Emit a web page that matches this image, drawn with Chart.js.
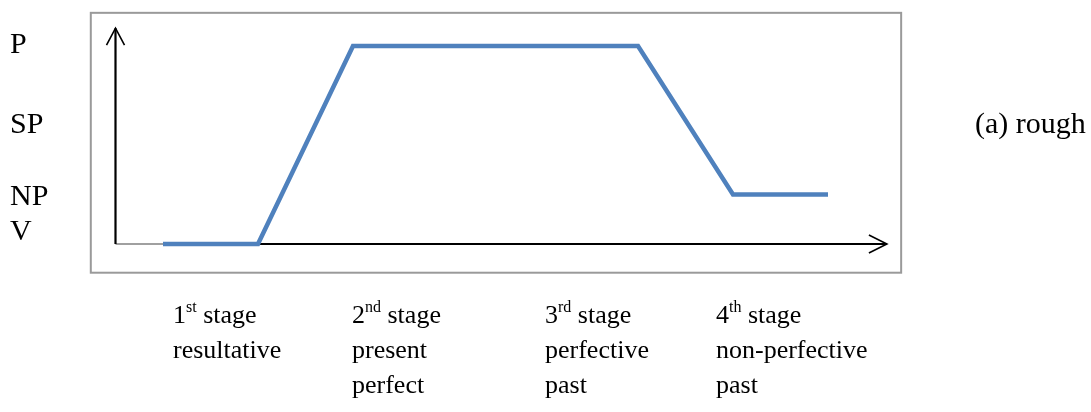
<!DOCTYPE html>
<html>
<head>
<meta charset="utf-8">
<script src="https://cdn.jsdelivr.net/npm/chart.js@4/dist/chart.umd.min.js"></script>
<style>
  body { margin: 0; background: #fff; }
  canvas { display: block; }
</style>
</head>
<body>
<canvas id="chart" width="1091" height="412"></canvas>
<script>
// stage curve (x = step along the time axis, y = level)
const stepX = [0, 1, 2, 5, 6, 7];
const levelY = [0, 0, 4, 4, 1, 1];

// level labels on the left and the value each sits at
const levelLabels = ['P', 'SP', 'NP', 'V'];
const levelLabelAt = [3.85, 2.25, 0.78, 0.08];

// stage captions under the box
const stageNum = ['1', '2', '3', '4'];
const stageSup = ['st', 'nd', 'rd', 'th'];
const stageLine2 = ['resultative', 'present', 'perfective', 'non-perfective'];
const stageLine3 = ['', 'perfect', 'past', 'past'];
const sideNote = '(a) rough';

// layout only
const stageColX = [173, 352, 545, 716];
const serif = '"Liberation Serif", "DejaVu Serif", serif';

const points = stepX.map((x, i) => ({ x: x, y: levelY[i] }));

const frame = {
    id: 'frame',
    beforeDatasetsDraw(chart) {
        const { ctx } = chart;
        const xs = chart.scales.x;
        const ys = chart.scales.y;
        const px = v => xs.getPixelForValue(v);
        const py = v => ys.getPixelForValue(v);

        ctx.save();
        // outer grey box
        ctx.strokeStyle = '#9a9a9a';
        ctx.lineWidth = 2;
        const bl = px(-0.76), br = px(7.77), bt = py(4.67), bb = py(-0.58);
        ctx.strokeRect(bl, bt, br - bl, bb - bt);

        const ox = px(-0.5), oy = py(0);
        // grey start of x axis
        ctx.strokeStyle = '#a0a0a0';
        ctx.lineWidth = 2;
        ctx.beginPath();
        ctx.moveTo(ox, oy);
        ctx.lineTo(px(0), oy);
        ctx.stroke();

        // black axes
        ctx.strokeStyle = '#000';
        ctx.lineWidth = 2.2;
        const xEnd = px(7.62), yEnd = py(4.36);
        ctx.beginPath();
        ctx.moveTo(px(0), oy);
        ctx.lineTo(xEnd, oy);
        ctx.moveTo(ox, oy);
        ctx.lineTo(ox, yEnd);
        ctx.stroke();

        // open arrow heads
        ctx.lineWidth = 1.6;
        ctx.beginPath();
        ctx.moveTo(xEnd - 18, oy - 9);
        ctx.lineTo(xEnd, oy);
        ctx.lineTo(xEnd - 18, oy + 9);
        ctx.moveTo(ox - 9, yEnd + 17);
        ctx.lineTo(ox, yEnd);
        ctx.lineTo(ox + 9, yEnd + 17);
        ctx.stroke();
        ctx.restore();
    },
    afterDraw(chart) {
        const { ctx } = chart;
        const ys = chart.scales.y;
        ctx.save();
        ctx.fillStyle = '#000';
        ctx.textBaseline = 'alphabetic';
        ctx.textAlign = 'left';

        ctx.font = '30px ' + serif;
        levelLabels.forEach((t, i) => {
            ctx.fillText(t, 10, ys.getPixelForValue(levelLabelAt[i]));
        });
        ctx.fillText(sideNote, 975, ys.getPixelForValue(levelLabelAt[1]));

        stageNum.forEach((n, i) => {
            let x = stageColX[i];
            ctx.font = '26px ' + serif;
            ctx.fillText(n, x, 323);
            x += ctx.measureText(n).width;
            ctx.font = '16px ' + serif;
            ctx.fillText(stageSup[i], x, 312);
            x += ctx.measureText(stageSup[i]).width;
            ctx.font = '26px ' + serif;
            ctx.fillText(' stage', x, 323);
            ctx.fillText(stageLine2[i], stageColX[i], 358);
            ctx.fillText(stageLine3[i], stageColX[i], 393);
        });
        ctx.restore();
    }
};

new Chart(document.getElementById('chart'), {
    type: 'line',
    data: {
        datasets: [{
            data: points,
            borderColor: '#4F81BD',
            borderWidth: 4.5,
            pointRadius: 0,
            tension: 0,
            fill: false,
            clip: false,
            borderJoinStyle: 'miter'
        }]
    },
    options: {
        responsive: false,
        animation: false,
        devicePixelRatio: 1,
        layout: { padding: { left: 163, right: 263, top: 46, bottom: 168 } },
        plugins: { legend: { display: false }, tooltip: { enabled: false } },
        scales: {
            x: { type: 'linear', min: 0, max: 7, display: false },
            y: { min: 0, max: 4, display: false }
        }
    },
    plugins: [frame]
});
</script>
</body>
</html>
